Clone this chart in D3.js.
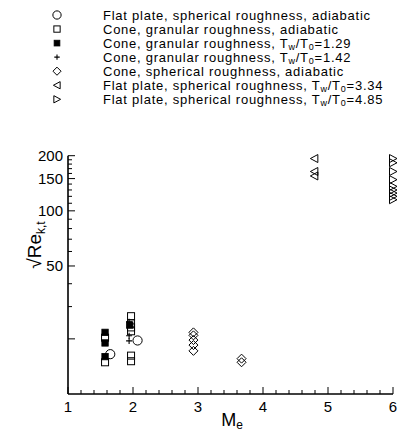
<!DOCTYPE html>
<html><head><meta charset="utf-8">
<script src="https://cdn.jsdelivr.net/npm/d3@7"></script>
<style>body{margin:0;background:#fff}text{font-family:"Liberation Sans",Arial,sans-serif;fill:#000}</style>
</head><body><svg id="c" width="399" height="431"></svg>
<script>
const circleFP = [[1.65,16.5],[2.07,19.6]];
const squareOpen = [[1.57,20.3],[1.57,14.9],[1.97,26.6],[1.97,24.3],[1.97,23.1],[1.97,22.0],[1.97,16.2],[1.97,15.1]];
const squareFilled = [[1.57,21.7],[1.57,19.0],[1.57,16.0],[1.95,23.8]];
const plusCone = [[1.94,24.8],[1.94,20.8],[1.94,19.5]];
const diamondCone = [[2.93,21.7],[2.93,20.9],[2.93,19.7],[2.93,18.5],[2.93,17.2],[3.67,15.6],[3.67,14.9]];
const triLeft = [[4.79,193],[4.79,164],[4.79,155]];
const triRight = [[6.0,193],[6.0,183],[6.0,164],[6.0,148],[6.0,136],[6.0,130],[6.0,125],[6.0,120],[6.0,115]];
const xTicks = [1,2,3,4,5,6];
const yTicksLabeled = [200,150,100,50];
const yTicksMinor = [190,180,170,160,140,130,120,110,90,80,70,60,40,30,20];

const legendItems = [
 {sym:"circle", parts:[["Flat plate, spherical roughness, adiabatic"]]},
 {sym:"square", parts:[["Cone, granular roughness, adiabatic"]]},
 {sym:"filled", parts:[["Cone, granular roughness, T"],["w","sub"],["/T"],["0","sub"],["=1.29"]]},
 {sym:"plus", parts:[["Cone, granular roughness, T"],["w","sub"],["/T"],["0","sub"],["=1.42"]]},
 {sym:"diamond", parts:[["Cone, spherical roughness, adiabatic"]]},
 {sym:"left", parts:[["Flat plate, spherical roughness, T"],["w","sub"],["/T"],["0","sub"],["=3.34"]]},
 {sym:"right", parts:[["Flat plate, spherical roughness, T"],["w","sub"],["/T"],["0","sub"],["=4.85"]]}
];

const svg = d3.select("#c");
const x = d3.scaleLinear().domain([1,6]).range([68,393]);
const y = d3.scaleLog().domain([10,200]).range([394,155.7]);

function drawSym(g, type, cx, cy, sc){
  sc = sc||1;
  const s = "#000";
  if(type==="circle") g.append("circle").attr("cx",cx).attr("cy",cy).attr("r",4.6*sc).attr("fill","none").attr("stroke",s).attr("stroke-width",1);
  else if(type==="square") g.append("rect").attr("x",cx-3.5*sc).attr("y",cy-3.5*sc).attr("width",7*sc).attr("height",7*sc).attr("fill","none").attr("stroke",s).attr("stroke-width",1);
  else if(type==="filled") g.append("rect").attr("x",cx-3.2*sc).attr("y",cy-3.2*sc).attr("width",6.4*sc).attr("height",6.4*sc).attr("fill","#000").attr("stroke",s).attr("stroke-width",0.8);
  else if(type==="plus") g.append("path").attr("d",`M${cx-3*sc},${cy}H${cx+3*sc}M${cx},${cy-3*sc}V${cy+3*sc}`).attr("stroke",s).attr("stroke-width",1.1);
  else if(type==="diamond") g.append("path").attr("d",`M${cx},${cy-4.5*sc}L${cx+4.5*sc},${cy}L${cx},${cy+4.5*sc}L${cx-4.5*sc},${cy}Z`).attr("fill","none").attr("stroke",s).attr("stroke-width",1);
  else if(type==="left") g.append("path").attr("d",`M${cx-4*sc},${cy}L${cx+3.5*sc},${cy-4*sc}L${cx+3.5*sc},${cy+4*sc}Z`).attr("fill","none").attr("stroke",s).attr("stroke-width",1);
  else if(type==="right") g.append("path").attr("d",`M${cx+4*sc},${cy}L${cx-3.5*sc},${cy-4*sc}L${cx-3.5*sc},${cy+4*sc}Z`).attr("fill","none").attr("stroke",s).attr("stroke-width",1);
}

// Legend
const lg = svg.append("g");
legendItems.forEach((it,i)=>{
  const ly = 15 + i*14.05;
  drawSym(lg, it.sym, 57, ly, 0.9);
  const t = lg.append("text").attr("x",103).attr("y",ly+4.5).attr("font-size",13).attr("letter-spacing",0.75);
  it.parts.forEach((p,j)=>{
    const ts = t.append("tspan").text(p[0]);
    if(p[1]==="sub") ts.attr("font-size",9).attr("dy",2.5);
    else if(j>0) ts.attr("dy",-2.5);
  });
});

// Axes
const xa = svg.append("g");
xa.append("line").attr("x1",68).attr("x2",393).attr("y1",394).attr("y2",394).attr("stroke","#000").attr("stroke-width",1.6);
d3.range(1,6.001,0.2).forEach(v=>{
  const major = Math.abs(v-Math.round(v))<1e-6;
  xa.append("line").attr("x1",x(v)).attr("x2",x(v)).attr("y1",394).attr("y2",394-(major?7:4)).attr("stroke","#000").attr("stroke-width",1);
});
xTicks.forEach(v=>xa.append("text").attr("x",x(v)).attr("y",412).attr("text-anchor","middle").attr("font-size",15).text(v));
const xt = xa.append("text").attr("x",232).attr("y",426).attr("text-anchor","middle").attr("font-size",18);
xt.append("tspan").text("M");
xt.append("tspan").attr("font-size",12).attr("dy",3).text("e");

const ya = svg.append("g");
ya.append("line").attr("x1",68).attr("x2",68).attr("y1",y(200)).attr("y2",394).attr("stroke","#000").attr("stroke-width",1.6);
yTicksLabeled.forEach(v=>{
  ya.append("line").attr("x1",68).attr("x2",75).attr("y1",y(v)).attr("y2",y(v)).attr("stroke","#000").attr("stroke-width",1);
  ya.append("text").attr("x",63).attr("y",y(v)+5).attr("text-anchor","end").attr("font-size",15).text(v);
});
yTicksMinor.forEach(v=>{
  ya.append("line").attr("x1",68).attr("x2",v===20?75:72).attr("y1",y(v)).attr("y2",y(v)).attr("stroke","#000").attr("stroke-width",1);
});
const yt = ya.append("text").attr("transform","translate(41,245) rotate(-90)").attr("text-anchor","middle").attr("font-size",19);
yt.append("tspan").text("√Re");
yt.append("tspan").attr("font-size",12).attr("dy",4).text("k,t");

// Data
const pg = svg.append("g");
const sets = [["square",squareOpen],["filled",squareFilled],["plus",plusCone],["circle",circleFP],["diamond",diamondCone],["left",triLeft],["right",triRight]];
sets.forEach(([t,arr])=>arr.forEach(d=>drawSym(pg,t,x(d[0]),y(d[1]))));
</script></body></html>
